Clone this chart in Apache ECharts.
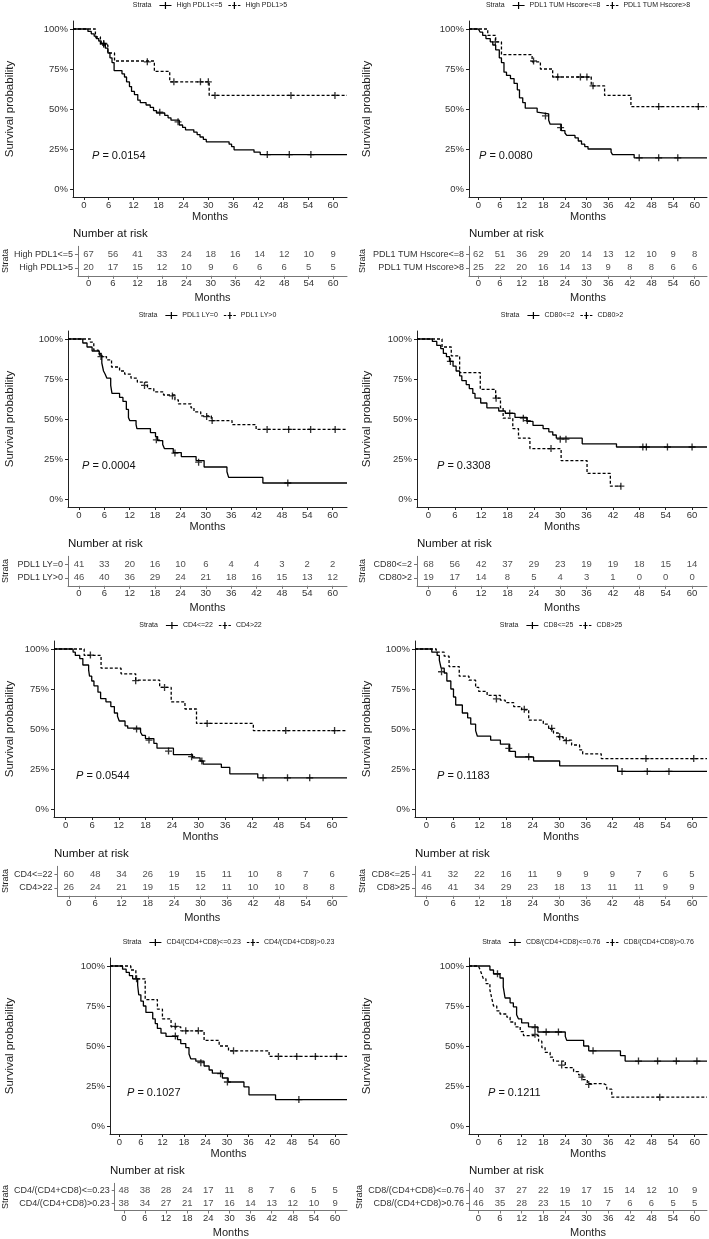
<!DOCTYPE html>
<html lang="en">
<head>
  <meta charset="UTF-8">
  <title>Kaplan-Meier curves</title>
  <script src="https://cdn.jsdelivr.net/npm/echarts@6/dist/echarts.min.js"></script>
  <style>
    html, body { margin: 0; padding: 0; background: #fff; }
    #chart { width: 709px; height: 1239px; }
  </style>
</head>
<body>
  <div id="chart"></div>
  <script>
    // ---- data ----
    const months = [0, 6, 12, 18, 24, 30, 36, 42, 48, 54, 60];
    const yTicks = [0, 0.25, 0.5, 0.75, 1];

    // High PDL1
    const hpStrata = ['High PDL1<=5', 'High PDL1>5'];
    const hpP = '0.0154';
    const hpLowSurv = [[0,1],[1,0.985],[1.8,0.97],[2.5,0.955],[3,0.94],[3.6,0.925],[4.2,0.91],[5.2,0.88],[5.8,0.85],[6.3,0.82],[6.8,0.79],[7.3,0.74],[9.2,0.72],[9.8,0.70],[10.3,0.67],[11,0.64],[11.5,0.61],[12.2,0.59],[13,0.555],[13.6,0.54],[15,0.525],[16,0.51],[16.8,0.49],[17.5,0.475],[19.5,0.46],[20.3,0.445],[21,0.43],[23,0.40],[23.8,0.385],[24.5,0.37],[26.5,0.355],[27.3,0.34],[28,0.325],[28.8,0.31],[29.5,0.295],[35,0.28],[35.6,0.265],[36.2,0.245],[41,0.23],[42.5,0.215],[63.4,0.215]];
    const hpHighSurv = [[0,1],[2.8,0.95],[4,0.90],[5.8,0.85],[7.4,0.80],[17,0.735],[20.7,0.67],[30.2,0.585],[63.4,0.585]];
    const hpLowCens = [[4.8,0.91],[18.3,0.48],[22.7,0.42],[44.2,0.215],[49.5,0.215],[54.7,0.215]];
    const hpHighCens = [[4.8,0.905],[15.3,0.795],[21.7,0.67],[28.1,0.67],[30,0.67],[31.6,0.585],[49.9,0.585],[60.5,0.585]];
    const hpLowRisk = [67, 56, 41, 33, 24, 18, 16, 14, 12, 10, 9];
    const hpHighRisk = [20, 17, 15, 12, 10, 9, 6, 6, 6, 5, 5];

    // PDL1 TUM Hscore
    const tumStrata = ['PDL1 TUM Hscore<=8', 'PDL1 TUM Hscore>8'];
    const tumP = '0.0080';
    const tumLowSurv = [[0,1],[0.5,0.98],[1.2,0.96],[2.1,0.94],[3.3,0.92],[4,0.90],[4.8,0.87],[5.8,0.82],[6.4,0.79],[7.1,0.73],[7.8,0.71],[8.9,0.69],[9.9,0.66],[10.8,0.62],[11.4,0.57],[12.3,0.54],[13,0.505],[16.3,0.48],[16.8,0.47],[19.5,0.43],[19.9,0.405],[23,0.365],[24,0.35],[24.5,0.335],[26.8,0.32],[27.7,0.30],[28.6,0.28],[29.5,0.265],[30.4,0.25],[36.8,0.23],[37.2,0.215],[43.2,0.195],[63.4,0.195]];
    const tumHighSurv = [[0,1],[2.6,0.96],[4.8,0.92],[6.4,0.84],[14.9,0.795],[17.2,0.75],[20.6,0.70],[31.3,0.645],[35,0.585],[42.3,0.515],[63.4,0.515]];
    const tumLowCens = [[4.7,0.92],[18.6,0.457],[22.8,0.384],[44.6,0.195],[50,0.195],[55.3,0.195]];
    const tumHighCens = [[15.3,0.80],[22,0.70],[28.3,0.70],[30.1,0.70],[31.8,0.645],[50,0.515],[61,0.515]];
    const tumLowRisk = [62, 51, 36, 29, 20, 14, 13, 12, 10, 9, 8];
    const tumHighRisk = [25, 22, 20, 16, 14, 13, 9, 8, 8, 6, 6];

    // PDL1 LY
    const lyStrata = ['PDL1 LY=0', 'PDL1 LY>0'];
    const lyP = '0.0004';
    const lyLowSurv = [[0,1],[0.9,0.975],[1.9,0.95],[3.1,0.925],[4.8,0.90],[5.4,0.85],[5.8,0.80],[6.2,0.78],[6.6,0.755],[7.5,0.71],[7.8,0.66],[9.6,0.635],[10.4,0.61],[11.2,0.56],[11.7,0.51],[12,0.49],[13.5,0.465],[13.7,0.44],[16.9,0.415],[18.1,0.39],[18.6,0.365],[19.8,0.34],[20.2,0.315],[22.3,0.29],[24.2,0.265],[27.7,0.24],[29.6,0.20],[35,0.17],[35.4,0.135],[43.5,0.10],[63.4,0.10]];
    const lyHighSurv = [[0,1],[2.7,0.98],[3.5,0.93],[4.6,0.91],[5.4,0.89],[6.5,0.87],[7.7,0.825],[9.6,0.80],[10.8,0.78],[12.3,0.755],[13.8,0.73],[16.2,0.69],[17.7,0.67],[20,0.65],[22.7,0.62],[23.5,0.595],[26.5,0.57],[27.2,0.545],[28.8,0.52],[31.3,0.49],[36.2,0.465],[41.9,0.435],[63.4,0.435]];
    const lyLowCens = [[5.2,0.89],[18.3,0.37],[22.7,0.287],[28.3,0.23],[49.4,0.10]];
    const lyHighCens = [[15.5,0.71],[22.1,0.644],[30.2,0.515],[31.5,0.49],[44.5,0.435],[49.6,0.435],[54.8,0.435],[60.6,0.435]];
    const lyLowRisk = [41, 33, 20, 16, 10, 6, 4, 4, 3, 2, 2];
    const lyHighRisk = [46, 40, 36, 29, 24, 21, 18, 16, 15, 13, 12];

    // CD80
    const cd80Strata = ['CD80<=2', 'CD80>2'];
    const cd80P = '0.3308';
    const cd80LowSurv = [[0,1],[0.9,0.985],[1.9,0.96],[2.8,0.94],[3.4,0.91],[4.1,0.89],[4.8,0.86],[5.6,0.83],[6.3,0.80],[7.1,0.77],[7.6,0.74],[8.6,0.715],[9.3,0.69],[10.1,0.66],[10.6,0.63],[11.9,0.60],[13.3,0.57],[16,0.55],[17.5,0.535],[19.7,0.51],[22.4,0.485],[23.8,0.46],[26.1,0.44],[27.4,0.42],[28.3,0.40],[29.1,0.38],[35,0.345],[42.8,0.325],[63.4,0.325]];
    const cd80HighSurv = [[0,1],[3.1,0.95],[5.2,0.895],[7.1,0.79],[11.8,0.685],[15.3,0.63],[16.4,0.57],[17,0.505],[19.2,0.44],[20.5,0.38],[23.1,0.315],[30.2,0.24],[36.1,0.16],[41.4,0.08],[43.8,0.08]];
    const cd80LowCens = [[5,0.86],[18.5,0.536],[21.6,0.505],[22.5,0.49],[30,0.374],[31.3,0.374],[48.8,0.325],[49.6,0.325],[54.4,0.325],[60,0.325]];
    const cd80HighCens = [[15.4,0.63],[27.9,0.315],[43.8,0.08]];
    const cd80LowRisk = [68, 56, 42, 37, 29, 23, 19, 19, 18, 15, 14];
    const cd80HighRisk = [19, 17, 14, 8, 5, 4, 3, 1, 0, 0, 0];

    // CD4
    const cd4Strata = ['CD4<=22', 'CD4>22'];
    const cd4P = '0.0544';
    const cd4LowSurv = [[0,1],[1.7,0.98],[2.2,0.96],[3.2,0.94],[3.9,0.90],[5.2,0.87],[5.4,0.83],[5.9,0.80],[6.4,0.77],[7.3,0.73],[7.9,0.69],[9.1,0.67],[10.2,0.64],[11,0.60],[11.7,0.58],[12.1,0.55],[13.4,0.52],[14,0.505],[16.9,0.48],[17.3,0.46],[18,0.44],[19.9,0.41],[20.6,0.38],[24.3,0.34],[28.6,0.32],[30.3,0.30],[31,0.28],[35.1,0.26],[37,0.22],[43.3,0.195],[63.4,0.195]];
    const cd4HighSurv = [[0,1],[4.2,0.96],[8,0.88],[12.5,0.845],[15.8,0.805],[21.2,0.76],[23.8,0.67],[26.9,0.625],[29.5,0.535],[42.3,0.49],[63.4,0.49]];
    const cd4LowCens = [[16,0.50],[18.8,0.431],[23.2,0.362],[28.4,0.327],[30.7,0.30],[44.5,0.195],[50,0.195],[55,0.195]];
    const cd4HighCens = [[5.6,0.962],[15.8,0.802],[22.3,0.76],[31.9,0.535],[49.6,0.49],[60.6,0.49]];
    const cd4LowRisk = [60, 48, 34, 26, 19, 15, 11, 10, 8, 7, 6];
    const cd4HighRisk = [26, 24, 21, 19, 15, 12, 11, 10, 10, 8, 8];

    // CD8
    const cd8Strata = ['CD8<=25', 'CD8>25'];
    const cd8P = '0.1183';
    const cd8LowSurv = [[0,1],[1.2,0.98],[2.4,0.96],[2.9,0.93],[3.3,0.88],[4,0.85],[4.6,0.80],[5.5,0.75],[6.1,0.70],[6.6,0.65],[8.1,0.60],[9.3,0.57],[10,0.53],[11.1,0.49],[11.5,0.455],[14.5,0.43],[16.7,0.405],[18.8,0.36],[20.1,0.325],[24.2,0.30],[30.1,0.27],[43.2,0.235],[63.4,0.235]];
    const cd8HighSurv = [[0,1],[2.2,0.98],[4,0.955],[5.1,0.89],[7.4,0.83],[9.6,0.805],[11.1,0.76],[11.8,0.735],[13.7,0.71],[16.7,0.68],[17.8,0.665],[19.7,0.64],[21.5,0.62],[23.1,0.555],[26.4,0.53],[27.6,0.50],[28.7,0.475],[29.8,0.45],[30.9,0.43],[32.8,0.40],[34.6,0.37],[35.3,0.345],[39.5,0.315],[63.4,0.315]];
    const cd8LowCens = [[3.4,0.858],[18.6,0.379],[23.1,0.327],[44.2,0.235],[49.9,0.235],[54.8,0.235]];
    const cd8HighCens = [[15.8,0.688],[22.1,0.623],[28.3,0.504],[30.1,0.452],[31.6,0.427],[49.6,0.315],[60.4,0.315]];
    const cd8LowRisk = [41, 32, 22, 16, 11, 9, 9, 9, 7, 6, 5];
    const cd8HighRisk = [46, 41, 34, 29, 23, 18, 13, 11, 11, 9, 9];

    // CD4/(CD4+CD8)
    const r4Strata = ['CD4/(CD4+CD8)<=0.23', 'CD4/(CD4+CD8)>0.23'];
    const r4P = '0.1027';
    const r4LowSurv = [[0,1],[0.9,0.98],[1.9,0.96],[2.8,0.94],[3.7,0.92],[5.1,0.88],[5.4,0.82],[6,0.78],[6.7,0.75],[7.4,0.71],[9.3,0.67],[10,0.64],[10.6,0.61],[11.6,0.58],[13,0.56],[16.2,0.54],[17.1,0.515],[18.5,0.49],[19.4,0.45],[19.9,0.42],[21.3,0.405],[23.6,0.375],[25,0.35],[25.9,0.33],[28.7,0.30],[30.3,0.275],[34.7,0.245],[36.1,0.195],[43.5,0.165],[63.4,0.165]];
    const r4HighSurv = [[0,1],[3.2,0.975],[4.6,0.92],[7.2,0.79],[10.6,0.73],[12,0.67],[14.4,0.62],[17.1,0.595],[23.6,0.535],[27.8,0.50],[30.4,0.47],[41.7,0.435],[63.4,0.435]];
    const r4LowCens = [[4.8,0.92],[15.6,0.563],[22.7,0.396],[28.2,0.327],[30.1,0.275],[50,0.165]];
    const r4HighCens = [[15.6,0.623],[18.5,0.595],[22,0.595],[31.8,0.47],[44.3,0.435],[49.4,0.435],[54.6,0.435],[60.5,0.435]];
    const r4LowRisk = [48, 38, 28, 24, 17, 11, 8, 7, 6, 5, 5];
    const r4HighRisk = [38, 34, 27, 21, 17, 16, 14, 13, 12, 10, 9];

    // CD8/(CD4+CD8)
    const r8Strata = ['CD8/(CD4+CD8)<=0.76', 'CD8/(CD4+CD8)>0.76'];
    const r8P = '0.1211';
    const r8LowSurv = [[0,1],[3.2,0.975],[4.2,0.95],[6,0.925],[6.9,0.87],[7.4,0.80],[8.8,0.77],[9.7,0.745],[10.6,0.695],[11.1,0.67],[12,0.645],[13.9,0.62],[16.5,0.5875],[24.1,0.56],[24.5,0.535],[29.2,0.50],[30.6,0.47],[39.4,0.44],[40.7,0.406],[63.4,0.406]];
    const r8HighSurv = [[0,1],[0.5,0.975],[0.9,0.95],[1.4,0.92],[2.1,0.89],[3.2,0.85],[3.7,0.80],[4.2,0.75],[5.1,0.72],[6,0.70],[7.9,0.68],[8.8,0.65],[10.2,0.62],[11.6,0.59],[12.5,0.565],[16.7,0.53],[17.6,0.49],[18.5,0.46],[19.9,0.43],[20.8,0.405],[24.1,0.365],[26.4,0.34],[27.8,0.32],[29,0.29],[30.2,0.265],[34.7,0.255],[35.6,0.23],[37,0.18],[63.4,0.18]];
    const r8LowCens = [[5.3,0.952],[15.7,0.615],[18.8,0.5875],[22.2,0.5875],[31.8,0.47],[44.4,0.406],[49.7,0.406],[54.9,0.406],[60.6,0.406]];
    const r8HighCens = [[15.7,0.573],[23.1,0.381],[28.7,0.306],[30.6,0.26],[50.3,0.18]];
    const r8LowRisk = [40, 37, 27, 22, 19, 17, 15, 14, 12, 10, 9];
    const r8HighRisk = [46, 35, 28, 23, 15, 10, 7, 6, 6, 5, 5];

    // ---- layout ----
    const X_MIN = -2.6, X_MAX = 63.4;
    const rowTop = [0, 310, 620, 937];
    const colTitleX = [10, 367];
    const colStrataX = [5, 362];
    const FONT = '"Liberation Sans", Arial, sans-serif';

    const panels = [
      { strata: hpStrata, p: hpP, surv: [hpLowSurv, hpHighSurv], cens: [hpLowCens, hpHighCens], risk: [hpLowRisk, hpHighRisk], row: 0, col: 0, ax: 73, right: 347, pDx: 19 },
      { strata: tumStrata, p: tumP, surv: [tumLowSurv, tumHighSurv], cens: [tumLowCens, tumHighCens], risk: [tumLowRisk, tumHighRisk], row: 0, col: 1, ax: 469, right: 707, pDx: 10 },
      { strata: lyStrata, p: lyP, surv: [lyLowSurv, lyHighSurv], cens: [lyLowCens, lyHighCens], risk: [lyLowRisk, lyHighRisk], row: 1, col: 0, ax: 68, right: 347, pDx: 14 },
      { strata: cd80Strata, p: cd80P, surv: [cd80LowSurv, cd80HighSurv], cens: [cd80LowCens, cd80HighCens], risk: [cd80LowRisk, cd80HighRisk], row: 1, col: 1, ax: 417, right: 707, pDx: 20 },
      { strata: cd4Strata, p: cd4P, surv: [cd4LowSurv, cd4HighSurv], cens: [cd4LowCens, cd4HighCens], risk: [cd4LowRisk, cd4HighRisk], row: 2, col: 0, ax: 54, right: 347, pDx: 22 },
      { strata: cd8Strata, p: cd8P, surv: [cd8LowSurv, cd8HighSurv], cens: [cd8LowCens, cd8HighCens], risk: [cd8LowRisk, cd8HighRisk], row: 2, col: 1, ax: 415, right: 707, pDx: 22 },
      { strata: r4Strata, p: r4P, surv: [r4LowSurv, r4HighSurv], cens: [r4LowCens, r4HighCens], risk: [r4LowRisk, r4HighRisk], row: 3, col: 0, ax: 110, right: 347, pDx: 17 },
      { strata: r8Strata, p: r8P, surv: [r8LowSurv, r8HighSurv], cens: [r8LowCens, r8HighCens], risk: [r8LowRisk, r8HighRisk], row: 3, col: 1, ax: 469, right: 707, pDx: 19 }
    ];

    const PLUS = 'path://M3,0 H4.4 V3 H7.4 V4.4 H4.4 V7.4 H3 V4.4 H0 V3 H3 Z';
    const ICON_SOLID = 'path://M0,3.5 H12 V4.5 H0 Z M5.4,0.5 H6.6 V7.5 H5.4 Z';
    const ICON_DASH = 'path://M0,3.5 H2.5 V4.5 H0 Z M3.8,3.5 H5.4 V4.5 H3.8 Z M6.6,3.5 H8.2 V4.5 H6.6 Z M9.5,3.5 H12 V4.5 H9.5 Z M5.4,0.5 H6.6 V7.5 H5.4 Z';

    const ctx = document.createElement('canvas').getContext('2d');
    function textWidth(s, size) {
      ctx.font = size + 'px ' + FONT;
      return ctx.measureText(s).width;
    }

    const grid = [], xAxis = [], yAxis = [], series = [], legend = [], title = [], graphic = [];
    const axisText = { color: '#333', fontFamily: FONT };

    panels.forEach(function (pn, i) {
      const off = rowTop[pn.row];
      const w = pn.right - pn.ax;
      const g = i * 2;

      // KM plot + risk table grids
      grid.push({ left: pn.ax, top: off + 21, width: w, height: 176 });
      grid.push({ left: pn.ax, top: off + 246.3, width: w, height: 29.5 });

      [0, 1].forEach(function (k) {
        xAxis.push({
          type: 'value', gridIndex: g + k, min: X_MIN, max: X_MAX,
          name: 'Months', nameLocation: 'middle', nameGap: k === 0 ? 14 : 16.5,
          nameTextStyle: { fontSize: 11, color: '#222', fontFamily: FONT },
          axisLine: { onZero: false, lineStyle: { color: k === 0 ? '#222' : '#777', width: 1 } },
          axisTick: { customValues: months, length: 3, lineStyle: { color: k === 0 ? '#222' : '#777' } },
          axisLabel: Object.assign({ customValues: months, fontSize: 9.5, margin: 3 }, axisText),
          splitLine: { show: false }
        });
      });

      yAxis.push({
        type: 'value', gridIndex: g, min: -0.05, max: 1.05,
        name: 'Survival probability', nameLocation: 'middle', nameGap: pn.ax - colTitleX[pn.col] - 6,
        nameTextStyle: { fontSize: 11.5, color: '#222', fontFamily: FONT },
        axisLine: { show: true, onZero: false, lineStyle: { color: '#222', width: 1 } },
        axisTick: { show: true, customValues: yTicks, length: 3, lineStyle: { color: '#222' } },
        axisLabel: Object.assign({ customValues: yTicks, fontSize: 9.5, margin: 5, formatter: function (v) { return Math.round(v * 100) + '%'; } }, axisText),
        splitLine: { show: false }
      });
      yAxis.push({
        type: 'value', gridIndex: g + 1, min: 0.4, max: 2.6, inverse: true,
        name: 'Strata', nameLocation: 'middle', nameGap: pn.ax - colStrataX[pn.col] - 5,
        nameTextStyle: { fontSize: 9, color: '#222', fontFamily: FONT },
        axisLine: { show: true, onZero: false, lineStyle: { color: '#777', width: 1 } },
        axisTick: { show: true, customValues: [1, 2], length: 3, lineStyle: { color: '#777' } },
        axisLabel: Object.assign({ customValues: [1, 2], fontSize: 9, margin: 5, formatter: function (v) { return pn.strata[Math.round(v) - 1]; } }, axisText),
        splitLine: { show: false }
      });

      // curves and censor marks
      [0, 1].forEach(function (k) {
        series.push({
          type: 'line', name: pn.strata[k], xAxisIndex: g, yAxisIndex: g,
          step: 'end', symbol: 'none', animation: false,
          data: [[X_MIN, 1]].concat(pn.surv[k]),
          itemStyle: { color: '#000' },
          lineStyle: { color: '#000', width: 1.3, type: k === 0 ? 'solid' : [3, 2] }
        });
        series.push({
          type: 'scatter', xAxisIndex: g, yAxisIndex: g, symbol: PLUS, symbolSize: 7,
          data: pn.cens[k], itemStyle: { color: '#000' }, animation: false, z: 3
        });
        series.push({
          type: 'scatter', xAxisIndex: g + 1, yAxisIndex: g + 1, symbolSize: 1,
          itemStyle: { color: 'rgba(0,0,0,0)' }, animation: false,
          data: months.map(function (m, j) { return [m, k + 1, pn.risk[k][j]]; }),
          label: { show: true, position: 'inside', formatter: function (p) { return p.value[2]; }, fontSize: 9.5, color: '#222', fontFamily: FONT }
        });
      });

      // legend, centred over the plot
      const LF = 7;
      const w0 = textWidth('Strata', LF);
      const wItems = 12 + 5 + textWidth(pn.strata[0], LF) + 6 + 12 + 5 + textWidth(pn.strata[1], LF);
      const total = w0 + 8 + wItems;
      const startX = (pn.ax + pn.right) / 2 - total / 2;
      graphic.push({
        type: 'text', left: startX, top: off + 2,
        style: { text: 'Strata', fontSize: LF, fill: '#222', fontFamily: FONT }
      });
      legend.push({
        left: startX + w0 + 8, top: off + 2, itemWidth: 12, itemHeight: 8, itemGap: 6,
        selectedMode: false, padding: 0,
        textStyle: { fontSize: LF, color: '#222', fontFamily: FONT },
        data: [{ name: pn.strata[0], icon: ICON_SOLID }, { name: pn.strata[1], icon: ICON_DASH }]
      });

      // p value and risk table heading
      title.push({
        text: '{i|P} = ' + pn.p, left: pn.ax + pn.pDx, top: off + 150, padding: 0,
        textStyle: { fontSize: 11, fontWeight: 'normal', color: '#111', fontFamily: FONT,
          rich: { i: { fontSize: 11, fontStyle: 'italic', color: '#111', fontFamily: FONT } } }
      });
      title.push({
        text: 'Number at risk', left: pn.ax, top: off + 228, padding: 0,
        textStyle: { fontSize: 11.5, fontWeight: 'normal', color: '#111', fontFamily: FONT }
      });
    });

    const chart = echarts.init(document.getElementById('chart'));
    chart.setOption({
      backgroundColor: '#fff',
      animation: false,
      textStyle: { fontFamily: FONT },
      grid: grid,
      xAxis: xAxis,
      yAxis: yAxis,
      legend: legend,
      title: title,
      graphic: graphic,
      series: series
    });
  </script>
</body>
</html>
